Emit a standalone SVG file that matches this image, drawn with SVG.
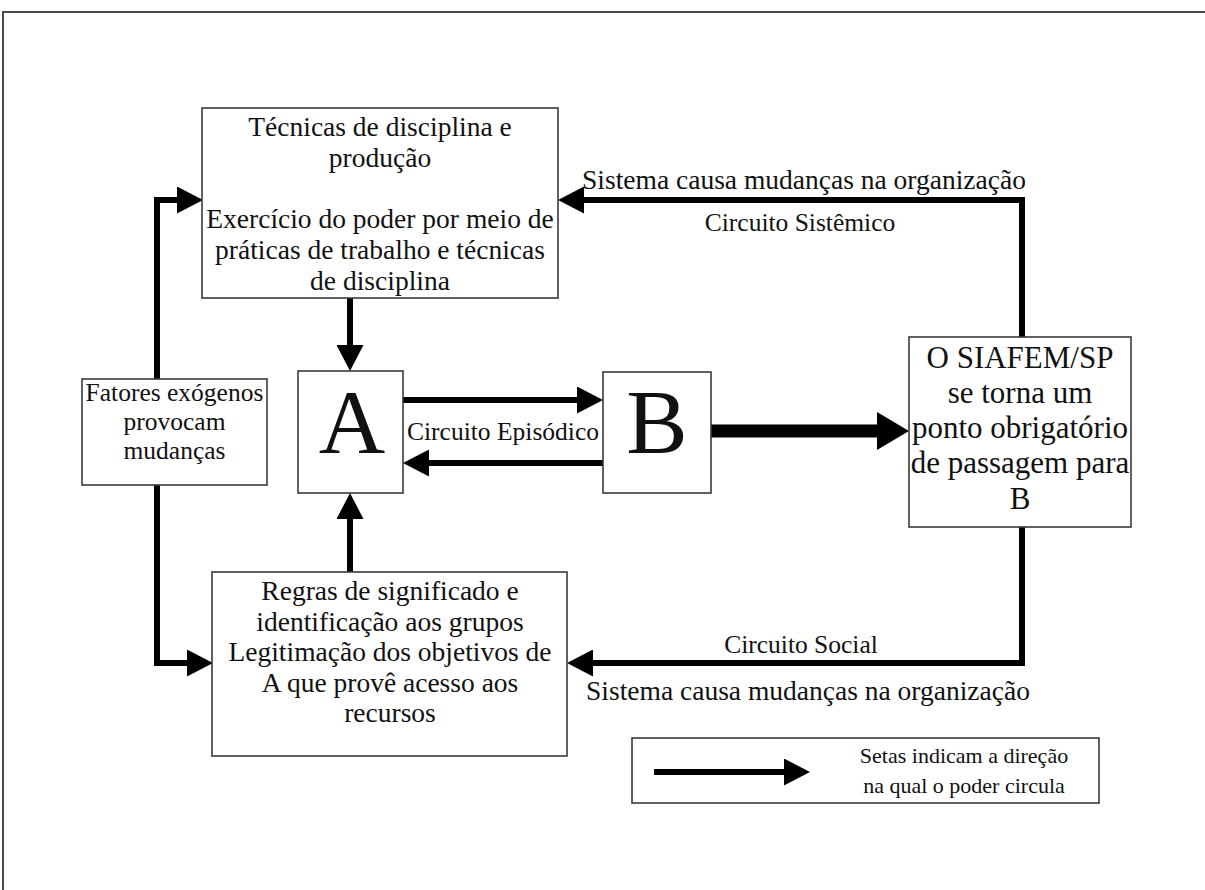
<svg xmlns="http://www.w3.org/2000/svg" width="1205" height="890" viewBox="0 0 1205 890">
  <style>
    .box { fill: #ffffff; stroke: #3a3a3a; stroke-width: 1.6; }
    .t { font-family: "Liberation Serif", "Times New Roman", serif; fill: #111111; text-anchor: middle; }
    .m { font-size: 27.5px; }
    .s { font-size: 25.5px; }
    .l { font-size: 31px; }
    .g { font-size: 92px; }
    .k { font-size: 22px; }
    .wire { fill: none; stroke: #000000; stroke-width: 6; stroke-linejoin: miter; stroke-linecap: butt; }
    .heavy { stroke-width: 13; }
  </style>
  <defs>
    <marker id="head" markerUnits="userSpaceOnUse" viewBox="0 0 26 27" markerWidth="26" markerHeight="27" refX="2" refY="13.5" orient="auto">
      <path d="M0,0 L26,13.5 L0,27 Z" fill="#000000"/>
    </marker>
    <marker id="headBig" markerUnits="userSpaceOnUse" viewBox="0 0 32 38" markerWidth="32" markerHeight="38" refX="2" refY="19" orient="auto">
      <path d="M0,0 L32,19 L0,38 Z" fill="#000000"/>
    </marker>
  </defs>

  <!-- outer frame (top and left edges) -->
  <path d="M3,890 V12 H1205" fill="none" stroke="#4a4a4a" stroke-width="2"/>

  <!-- connectors -->
  <g id="connectors">
    <path class="wire" d="M157,379 V200 H179" marker-end="url(#head)"/>
    <path class="wire" d="M157,485 V663 H189" marker-end="url(#head)"/>
    <path class="wire" d="M350,298 V347" marker-end="url(#head)"/>
    <path class="wire" d="M350,572 V517" marker-end="url(#head)"/>
    <path class="wire" d="M403,400 H579" marker-end="url(#head)"/>
    <path class="wire" d="M603,463 H427" marker-end="url(#head)"/>
    <path class="wire heavy" d="M711,431 H879" marker-end="url(#headBig)"/>
    <path class="wire" d="M1022,337 V200 H582" marker-end="url(#head)"/>
    <path class="wire" d="M1022,527 V663 H591" marker-end="url(#head)"/>
    <text class="t m" x="804" y="189">Sistema causa mudanças na organização</text>
    <text class="t s" x="800" y="231">Circuito Sistêmico</text>
    <text class="t s" x="503" y="440">Circuito Episódico</text>
    <text class="t s" x="801" y="653">Circuito Social</text>
    <text class="t m" x="808" y="700">Sistema causa mudanças na organização</text>
  </g>

  <g id="tecnicas">
    <rect class="box" x="202" y="108" width="356" height="190"/>
    <text class="t m" x="380" y="136">Técnicas de disciplina e</text>
    <text class="t m" x="380" y="167">produção</text>
    <text class="t m" x="380" y="228">Exercício do poder por meio de</text>
    <text class="t m" x="380" y="259">práticas de trabalho e técnicas</text>
    <text class="t m" x="380" y="290">de disciplina</text>
  </g>

  <g id="fatores">
    <rect class="box" x="82" y="379" width="185" height="106"/>
    <text class="t s" x="174.5" y="401">Fatores exógenos</text>
    <text class="t s" x="174.5" y="430">provocam</text>
    <text class="t s" x="174.5" y="459">mudanças</text>
  </g>

  <g id="nodeA">
    <rect class="box" x="298" y="371" width="105" height="122"/>
    <text class="t g" x="352" y="453">A</text>
  </g>

  <g id="nodeB">
    <rect class="box" x="603" y="372" width="108" height="121"/>
    <text class="t g" x="657" y="453">B</text>
  </g>

  <g id="siafem">
    <rect class="box" x="909" y="337" width="222" height="190"/>
    <text class="t l" x="1020" y="368">O SIAFEM/SP</text>
    <text class="t l" x="1020" y="403">se torna um</text>
    <text class="t l" x="1020" y="438">ponto obrigatório</text>
    <text class="t l" x="1020" y="473">de passagem para</text>
    <text class="t l" x="1020" y="509">B</text>
  </g>

  <g id="regras">
    <rect class="box" x="212" y="572" width="355" height="184"/>
    <text class="t m" x="390" y="600">Regras de significado e</text>
    <text class="t m" x="390" y="630.5">identificação aos grupos</text>
    <text class="t m" x="390" y="661">Legitimação dos objetivos de</text>
    <text class="t m" x="390" y="691.5">A que provê acesso aos</text>
    <text class="t m" x="390" y="722">recursos</text>
  </g>

  <g id="legenda">
    <rect class="box" x="632" y="738" width="467" height="65"/>
    <path class="wire" d="M654,772 H786" marker-end="url(#head)"/>
    <text class="t k" x="964" y="763">Setas indicam a direção</text>
    <text class="t k" x="964" y="793">na qual o poder circula</text>
  </g>
</svg>
